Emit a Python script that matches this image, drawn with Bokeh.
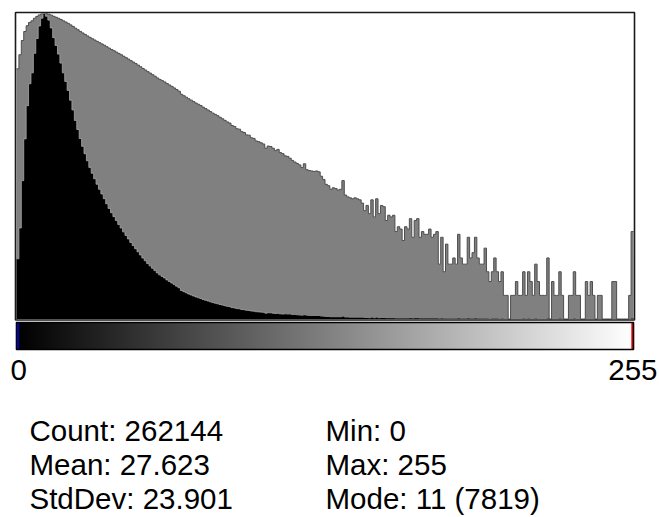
import numpy as np
from bokeh.plotting import figure
from bokeh.models import Range1d, LinearColorMapper
from bokeh.core.properties import value
from bokeh.embed import file_html
from bokeh.resources import INLINE

# ---------------- data ----------------
bins = list(range(256))
counts = [
    1540, 2330, 3540, 4610, 5460, 6020, 6300, 6800, 7180, 7500, 7700, 7819, 7750,
    7650, 7450, 7200, 7000, 6780, 6550, 6300, 6080, 5850, 5600, 5350, 5080, 4850, 4620, 4420, 4230, 4050, 3880,
    3730, 3590, 3450, 3320, 3200, 3080, 2950, 2830, 2720, 2620, 2520, 2420, 2330, 2230, 2140, 2050, 1960, 1880,
    1800, 1720, 1640, 1560, 1490, 1420, 1360, 1300, 1240, 1180, 1130, 1090, 1050, 1000, 960, 920, 880, 840, 800,
    730, 700, 670, 640, 615, 590, 565, 545, 525, 500, 480, 460, 440, 420, 405, 390, 372, 356, 340, 325,
    314, 292, 284, 266, 262, 244, 238, 222, 220, 204, 200, 186,
    182, 176, 170, 150, 160, 158, 150, 140, 145, 132, 128, 120, 118, 112, 105, 100, 96, 92, 85, 95,
    80, 78, 77, 76, 77, 75, 66, 60,
    52, 50, 45, 47, 46, 44, 45, 58, 38, 36, 35, 34, 35, 34, 33, 30, 24, 28, 22, 33, 20, 34, 22, 28, 27, 18, 21, 20,
    21, 13, 15, 14, 10, 15, 14, 19, 11, 18, 19, 11, 13, 12, 12, 14, 11, 12, 13, 5, 11, 4, 9, 5, 5, 6, 5, 12,
    6, 5, 5, 11, 6, 7, 11, 6, 5, 5, 8, 4, 3, 4, 6, 4, 3, 4, 2, 2, 0, 2, 2, 3, 2, 2, 4, 2,
    4, 3, 2, 5, 3, 2, 2, 2, 6, 1, 3, 2, 2, 4, 2, 1, 0, 2, 2, 4, 2, 2, 1, 0, 3, 2, 3, 2,
    1, 2, 2, 1, 0, 1, 0, 3, 3, 0, 1, 0, 1, 0, 2, 13,
]
mode_count = 7819
range_labels = ["0", "255"]
stats_left = ["Count: 262144", "Mean: 27.623", "StdDev: 23.901"]
stats_right = ["Min: 0", "Max: 255", "Mode: 11 (7819)"]

# ---------------- layout constants (pixels of the 659x517 picture) ----------------
W, H = 659, 517
OX, OY = 0, 0                 # picture position of the canvas
X_L, X_R = 16.0, 633.0        # left edge of bin 0 / right edge of bin 255
PX = (X_R - X_L) / 256.0
Y_BASE, Y_TOP = 318.5, 13.0   # count 0 / mode count
CPP = mode_count / (Y_BASE - Y_TOP)
FONT = value("Liberation Sans")
FS = "29.5px"
TXT_SHIFT = 11                # svg text sits this much below the anchor


def dx(px):
    return -0.5 + (px - X_L) / PX


def dy(py):
    return (Y_BASE - py) * CPP


c = np.array(counts, dtype=float)
gray_h = np.where(c > 1, mode_count * np.log(np.maximum(c, 1)) / np.log(mode_count), 0.0)
edges = np.array(bins + [256], dtype=float) - 0.5
black_ext = np.append(c, c[-1])
gray_ext = np.append(gray_h, gray_h[-1])

p = figure(width=W, height=H, output_backend="svg", toolbar_location=None, title=None,
           x_range=Range1d(dx(OX), dx(OX + W)), y_range=Range1d(dy(OY + H), dy(OY)),
           x_axis_location=None, y_axis_location=None, min_border=0)
p.grid.visible = False
p.outline_line_color = None
p.background_fill_color = "white"
p.border_fill_color = "white"

# histogram: log view (gray) behind linear counts (black)
p.varea_step(x=edges, y1=0, y2=gray_ext, step_mode="after", fill_color="#808080")
p.step(edges, gray_ext, mode="after", line_color="#4d4d4d", line_width=1)
p.varea_step(x=edges, y1=0, y2=black_ext, step_mode="after", fill_color="black")
p.step(edges[:112], black_ext[:112], mode="after", line_color="#a6a6a6", line_width=0.8)
p.quad(left=dx(15), right=dx(634), bottom=dy(319.5), top=dy(12), fill_color=None,
       line_color="#1a1a1a", line_width=1.6)

# LUT bar
grays = ["#%02x%02x%02x" % (i, i, i) for i in bins]
mapper = LinearColorMapper(palette=grays, low=0, high=255)
p.image(image=[np.array(bins, dtype=float).reshape(1, 256)], x=-0.5, y=dy(349),
        dw=256, dh=dy(322) - dy(349), color_mapper=mapper)
p.segment(x0=[bins[0]], y0=[dy(349)], x1=[bins[0]], y1=[dy(322)], line_color="#0000ff", line_width=2)
p.segment(x0=[bins[-1]], y0=[dy(349)], x1=[bins[-1]], y1=[dy(322)], line_color="#ff0000", line_width=2)
p.quad(left=-0.5, right=255.5, bottom=dy(349), top=dy(322), fill_color=None,
       line_color="black", line_width=1.6)
p.text(x=[dx(10)], y=[dy(381 - TXT_SHIFT - 1)], text=[range_labels[0]], text_align="left",
       text_baseline="alphabetic", text_font=FONT, text_font_size=FS, text_color="black")
p.text(x=[dx(657)], y=[dy(381 - TXT_SHIFT - 1)], text=[range_labels[1]], text_align="right",
       text_baseline="alphabetic", text_font=FONT, text_font_size=FS, text_color="black")

# statistics
rows_y = [dy(441 - TXT_SHIFT), dy(475 - TXT_SHIFT), dy(509 - TXT_SHIFT)]
p.text(x=[dx(29)] * 3, y=rows_y, text=stats_left, text_align="left", text_baseline="alphabetic",
       text_font=FONT, text_font_size=FS, text_color="black")
p.text(x=[dx(325)] * 3, y=rows_y, text=stats_right, text_align="left", text_baseline="alphabetic",
       text_font=FONT, text_font_size=FS, text_color="black")

open("out.html", "w").write(file_html(p, INLINE))
